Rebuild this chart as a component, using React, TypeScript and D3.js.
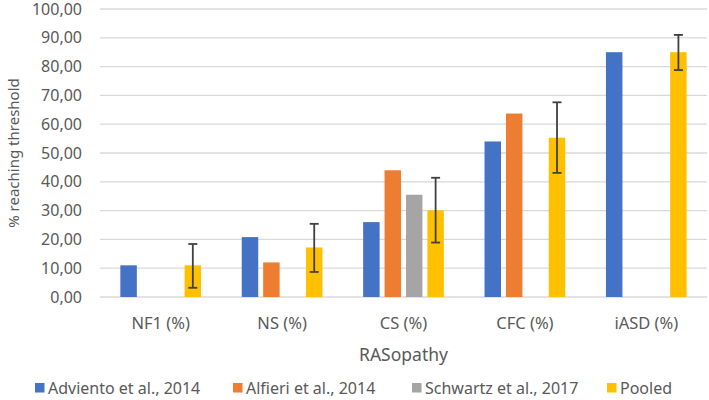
import { useEffect, useRef } from "react";
import * as d3 from "d3";

const categories = ["NF1 (%)", "NS (%)", "CS (%)", "CFC (%)", "iASD (%)"];
const seriesNames = ["Adviento et al., 2014", "Alfieri et al., 2014", "Schwartz et al., 2017", "Pooled"];
const colors = ["#4472C4", "#ED7D31", "#A5A5A5", "#FFC000"];

// null = no bar for that study
const adviento = [11, 20.8, 26, 54, 85];
const alfieri = [null, 12, 44, 63.7, null];
const schwartz = [null, null, 35.5, null, null];
const pooled = [11, 17.2, 30.1, 55.3, 85];
const pooledLow = [3.2, 8.7, 18.9, 43.1, 78.8];
const pooledHigh = [18.4, 25.4, 41.4, 67.6, 91];

const yTicks = [0, 10, 20, 30, 40, 50, 60, 70, 80, 90, 100];

const W = 709;
const H = 400;
const font = "'Noto Sans', sans-serif";
const textColor = "#595959";

export default function App() {
  const ref = useRef<SVGSVGElement>(null);

  useEffect(() => {
    if (!ref.current) return;
    const svg = d3.select(ref.current);
    svg.selectAll("*").remove();

    const margin = { top: 9, right: 2, bottom: 103, left: 100 };
    const x = d3.scaleBand().domain(categories).range([margin.left, W - margin.right]);
    const x1 = d3
      .scaleBand()
      .domain(seriesNames)
      .range([0, x.bandwidth()])
      .paddingInner(0.23)
      .paddingOuter(0.95);
    const y = d3.scaleLinear().domain([0, 100]).range([H - margin.bottom, margin.top]);

    // gridlines
    svg
      .append("g")
      .selectAll("line")
      .data(yTicks)
      .enter()
      .append("line")
      .attr("x1", margin.left)
      .attr("x2", W - margin.right)
      .attr("y1", (d) => y(d))
      .attr("y2", (d) => y(d))
      .attr("stroke", "#D9D9D9")
      .attr("stroke-width", 1.3);

    // y tick labels
    svg
      .append("g")
      .selectAll("text")
      .data(yTicks)
      .enter()
      .append("text")
      .attr("x", 82)
      .attr("y", (d) => y(d))
      .attr("dy", "0.35em")
      .attr("text-anchor", "end")
      .style("font-family", font)
      .style("font-size", "16px")
      .style("fill", textColor)
      .text((d) => d.toFixed(2).replace(".", ","));

    // bars
    const allSeries = [adviento, alfieri, schwartz, pooled];
    allSeries.forEach((vals, si) => {
      svg
        .append("g")
        .selectAll("rect")
        .data(vals.map((v, i) => ({ v, c: categories[i] })).filter((d) => d.v !== null))
        .enter()
        .append("rect")
        .attr("x", (d) => (x(d.c) ?? 0) + (x1(seriesNames[si]) ?? 0))
        .attr("width", x1.bandwidth())
        .attr("y", (d) => y(d.v as number))
        .attr("height", (d) => y(0) - y(d.v as number))
        .attr("fill", colors[si]);
    });

    // error bars on pooled
    const eb = svg.append("g").attr("stroke", "#404040").attr("stroke-width", 1.8);
    categories.forEach((c, i) => {
      const cx = (x(c) ?? 0) + (x1("Pooled") ?? 0) + x1.bandwidth() / 2;
      eb.append("line").attr("x1", cx).attr("x2", cx).attr("y1", y(pooledLow[i])).attr("y2", y(pooledHigh[i]));
      [pooledLow[i], pooledHigh[i]].forEach((v) => {
        eb.append("line").attr("x1", cx - 4.5).attr("x2", cx + 4.5).attr("y1", y(v)).attr("y2", y(v));
      });
    });

    // category labels
    svg
      .append("g")
      .selectAll("text")
      .data(categories)
      .enter()
      .append("text")
      .attr("x", (d) => (x(d) ?? 0) + x.bandwidth() / 2)
      .attr("y", 329)
      .attr("text-anchor", "middle")
      .style("font-family", font)
      .style("font-size", "16.5px")
      .style("fill", textColor)
      .text((d) => d);

    // axis titles
    svg
      .append("text")
      .attr("x", (margin.left + W - margin.right) / 2)
      .attr("y", 361)
      .attr("text-anchor", "middle")
      .style("font-family", font)
      .style("font-size", "17.5px")
      .style("fill", textColor)
      .text("RASopathy");

    svg
      .append("text")
      .attr("transform", `translate(19, ${(y(0) + y(100)) / 2}) rotate(-90)`)
      .attr("text-anchor", "middle")
      .style("font-family", font)
      .style("font-size", "15px")
      .style("fill", textColor)
      .text("% reaching threshold");

    // legend
    const legendX = [35, 233, 412, 607];
    const lg = svg.append("g");
    seriesNames.forEach((name, i) => {
      lg.append("rect")
        .attr("x", legendX[i])
        .attr("y", 383)
        .attr("width", 9.5)
        .attr("height", 9.5)
        .attr("fill", colors[i]);
      lg.append("text")
        .attr("x", legendX[i] + 13)
        .attr("y", 388)
        .attr("dy", "0.35em")
        .style("font-family", font)
        .style("font-size", "16px")
        .style("fill", textColor)
        .text(name);
    });
  }, []);

  return (
    <svg
      ref={ref}
      width={W}
      height={H}
      style={{ position: "absolute", left: 0, top: 0, background: "#fff" }}
    />
  );
}
